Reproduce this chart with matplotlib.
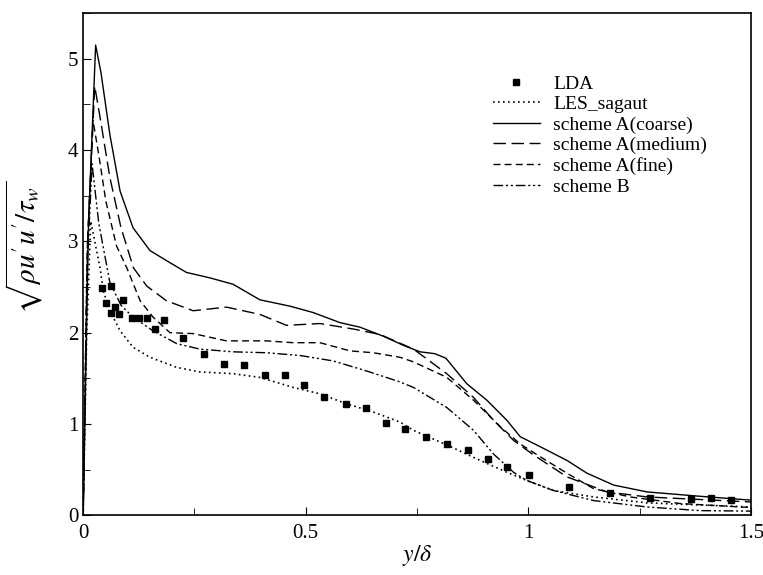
import numpy as np
import matplotlib.pyplot as plt
from matplotlib.ticker import MultipleLocator

plt.rcParams['font.family'] = ['Liberation Serif', 'DejaVu Serif']
plt.rcParams['mathtext.fontset'] = 'stix'

# LDA 实验数据
lda_x = [0.043, 0.062, 0.052, 0.062, 0.072, 0.081, 0.089, 0.109, 0.126, 0.144,
         0.161, 0.181, 0.224, 0.271, 0.316, 0.361, 0.409, 0.454, 0.497, 0.542,
         0.590, 0.635, 0.680, 0.723, 0.770, 0.817, 0.864, 0.909, 0.953, 1.001,
         1.092, 1.183, 1.274, 1.366, 1.411, 1.456]
lda_y = [2.49, 2.51, 2.32, 2.22, 2.28, 2.20, 2.36, 2.16, 2.16, 2.16,
         2.04, 2.14, 1.94, 1.77, 1.66, 1.65, 1.54, 1.54, 1.43, 1.30,
         1.22, 1.17, 1.01, 0.94, 0.86, 0.78, 0.71, 0.62, 0.53, 0.44,
         0.31, 0.24, 0.19, 0.175, 0.186, 0.167]

# LES_sagaut
les_x = [0.0, 0.008, 0.017, 0.026, 0.038, 0.045, 0.06, 0.083, 0.112, 0.15, 0.21,
         0.262, 0.337, 0.397, 0.472, 0.532, 0.592, 0.652, 0.712, 0.742, 0.817,
         0.892, 0.952, 0.997, 1.057, 1.147, 1.267, 1.5]
les_y = [0.0, 2.0, 3.22, 3.0, 2.71, 2.46, 2.24, 2.02, 1.84, 1.73, 1.62,
         1.57, 1.55, 1.51, 1.40, 1.33, 1.22, 1.13, 1.02, 0.93, 0.77,
         0.60, 0.47, 0.38, 0.27, 0.20, 0.135, 0.09]

# scheme A(coarse)
coarse_x = [0.0, 0.012, 0.028, 0.04, 0.06, 0.083, 0.112, 0.15, 0.187, 0.232,
            0.285, 0.337, 0.397, 0.465, 0.517, 0.577, 0.622, 0.675, 0.72,
            0.757, 0.79, 0.815, 0.862, 0.907, 0.952, 0.982, 1.027, 1.087,
            1.132, 1.192, 1.267, 1.379, 1.5]
coarse_y = [0.0, 3.2, 5.15, 4.85, 4.17, 3.55, 3.15, 2.90, 2.79, 2.66,
            2.60, 2.53, 2.36, 2.29, 2.22, 2.11, 2.06, 1.96, 1.86,
            1.79, 1.77, 1.72, 1.44, 1.26, 1.04, 0.86, 0.75, 0.60,
            0.46, 0.33, 0.255, 0.21, 0.165]

# scheme A(medium)
medium_x = [0.0, 0.010, 0.026, 0.04, 0.06, 0.085, 0.113, 0.143, 0.187, 0.247,
            0.322, 0.397, 0.457, 0.532, 0.607, 0.667, 0.742, 0.817, 0.877,
            0.922, 0.967, 1.012, 1.087, 1.177, 1.267, 1.5]
medium_y = [0.0, 3.0, 4.70, 4.30, 3.70, 3.15, 2.71, 2.51, 2.35, 2.24,
            2.28, 2.20, 2.08, 2.10, 2.04, 1.98, 1.82, 1.55, 1.29,
            1.04, 0.82, 0.66, 0.42, 0.255, 0.20, 0.145]

# scheme A(fine)
fine_x = [0.0, 0.009, 0.022, 0.035, 0.051, 0.075, 0.098, 0.128, 0.157, 0.195,
          0.247, 0.322, 0.412, 0.472, 0.532, 0.60, 0.652, 0.712, 0.742, 0.817,
          0.877, 0.937, 0.982, 1.027, 1.087, 1.147, 1.229, 1.341, 1.5]
fine_y = [0.0, 2.9, 4.33, 3.95, 3.44, 2.95, 2.71, 2.35, 2.17, 2.00,
          1.99, 1.91, 1.91, 1.89, 1.89, 1.80, 1.78, 1.73, 1.68, 1.51,
          1.26, 0.97, 0.78, 0.64, 0.46, 0.29, 0.20, 0.128, 0.084]

# scheme B
schb_x = [0.0, 0.008, 0.02, 0.035, 0.06, 0.085, 0.112, 0.157, 0.21, 0.262,
          0.337, 0.412, 0.487, 0.562, 0.637, 0.712, 0.742, 0.817, 0.877,
          0.922, 0.967, 0.997, 1.057, 1.147, 1.267, 1.387, 1.5]
schb_y = [0.0, 2.6, 3.85, 3.2, 2.55, 2.30, 2.17, 2.02, 1.88, 1.82,
          1.79, 1.78, 1.75, 1.69, 1.58, 1.46, 1.40, 1.18, 0.93,
          0.67, 0.47, 0.38, 0.27, 0.16, 0.09, 0.05, 0.045]

fig = plt.figure(figsize=(7.63, 5.75), dpi=100)
ax = fig.add_axes([0.109, 0.104, 0.875, 0.873])

ax.plot(lda_x, lda_y, 's', color='black', markersize=5, label='LDA')
ax.plot(les_x, les_y, color='black', linestyle=(0, (1, 2)), linewidth=1.2, label='LES_sagaut')
ax.plot(coarse_x, coarse_y, color='black', linestyle='-', linewidth=1.0, label='scheme A(coarse)')
ax.plot(medium_x, medium_y, color='black', linestyle=(0, (9, 4)), linewidth=1.0, label='scheme A(medium)')
ax.plot(fine_x, fine_y, color='black', linestyle=(0, (5, 3)), linewidth=1.0, label='scheme A(fine)')
ax.plot(schb_x, schb_y, color='black', linestyle=(0, (7, 2, 1.5, 2, 1.5, 2)), linewidth=1.0, label='scheme B')

ax.set_xlim(0, 1.5)
ax.set_ylim(0, 5.5)
ax.xaxis.set_major_locator(MultipleLocator(0.5))
ax.xaxis.set_minor_locator(MultipleLocator(0.25))
ax.yaxis.set_major_locator(MultipleLocator(1))
ax.yaxis.set_minor_locator(MultipleLocator(0.5))
ax.set_xticks([0, 0.5, 1, 1.5])
ax.set_xticklabels(['0', '0.5', '1', '1.5'])
ax.tick_params(which='both', direction='in', top=False, right=False, labelsize=15)
ax.tick_params(which='major', length=6)
ax.tick_params(which='minor', length=5)
ax.tick_params(axis='x', pad=6)
for s in ax.spines.values():
    s.set_linewidth(1.2)

ax.set_xlabel(r'$y/\delta$', fontsize=17, labelpad=0)
ax.set_ylabel(r"$\sqrt{\rho u^{\prime} u^{\prime} / \tau_w}$", fontsize=21)
ax.yaxis.set_label_coords(-0.057, 0.534)

ax.legend(loc='upper left', bbox_to_anchor=(0.602, 0.8925), frameon=False, fontsize=14,
          handlelength=2.4, handletextpad=0.7, labelspacing=0.15, borderaxespad=0)

fig.savefig('out.png', dpi=100)
